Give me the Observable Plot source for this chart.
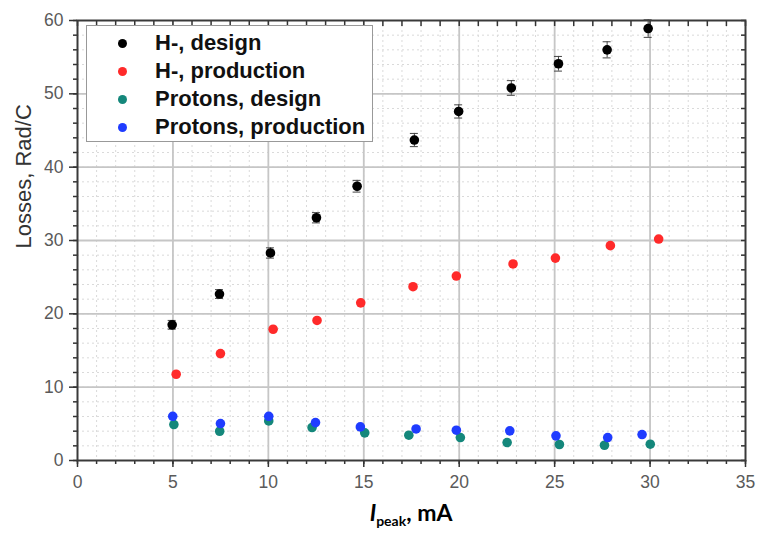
<!DOCTYPE html>
<html>
<head>
<meta charset="utf-8">
<script src="https://cdn.jsdelivr.net/npm/d3@7"></script>
<script src="https://cdn.jsdelivr.net/npm/@observablehq/plot@0.6"></script>
<style>
  html, body { margin: 0; padding: 0; background: #fff; }
  #wrap { position: relative; width: 773px; height: 543px; font-family: "Liberation Sans", Arial, sans-serif; }
  #legend { position: absolute; left: 86px; top: 25px; width: 287px; height: 117px; border: 1px solid #999; background: #fff; box-sizing: border-box; }
  .row { position: absolute; left: 0; height: 28px; display: flex; align-items: center; }
  .sw { width: 9px; height: 9px; border-radius: 50%; margin-left: 31px; margin-right: 28px; }
  .lab { font-weight: bold; font-size: 22px; color: #111; white-space: nowrap; }
  #xlabel { position: absolute; left: 77px; width: 668px; top: 498px; text-align: center; font-family: Lato, "Open Sans", sans-serif; font-weight: bold; font-size: 23px; color: #000; }
  #xlabel sub { font-size: 14px; vertical-align: -5px; }
</style>
</head>
<body>
<div id="wrap"></div>
<script>
// ---- data ----
const series = ["H-, design", "H-, production", "Protons, design", "Protons, production"];
const colors = ["#000000", "#ff2a2a", "#14877b", "#1f3cff"];

const xHD = [4.96, 7.44, 10.11, 12.52, 14.65, 17.65, 19.97, 22.73, 25.2, 27.75, 29.9];
const yHD = [18.5, 22.7, 28.3, 33.1, 37.4, 43.7, 47.6, 50.8, 54.1, 56.0, 58.9];
const eHD = [0.6, 0.6, 0.7, 0.7, 0.8, 0.9, 0.9, 1.0, 1.0, 1.1, 1.2];

const xHP = [5.17, 7.49, 10.25, 12.55, 14.84, 17.58, 19.85, 22.82, 25.04, 27.92, 30.45];
const yHP = [11.76, 14.58, 17.9, 19.1, 21.5, 23.7, 25.15, 26.8, 27.6, 29.3, 30.2];

const xPD = [5.05, 7.45, 10.02, 12.29, 15.05, 17.36, 20.06, 22.51, 25.25, 27.61, 30.01];
const yPD = [4.9, 3.99, 5.4, 4.5, 3.77, 3.45, 3.13, 2.45, 2.18, 2.08, 2.22];

const xPP = [4.99, 7.49, 10.02, 12.47, 14.82, 17.74, 19.85, 22.65, 25.07, 27.78, 29.58];
const yPP = [6.03, 5.04, 6.03, 5.17, 4.58, 4.3, 4.13, 4.04, 3.36, 3.13, 3.54];

const xMajor = [0, 5, 10, 15, 20, 25, 30, 35];
const yMajor = [0, 10, 20, 30, 40, 50, 60];
const xMinor = [0,1,2,3,4,5,6,7,8,9,10,11,12,13,14,15,16,17,18,19,20,21,22,23,24,25,26,27,28,29,30,31,32,33,34,35];
const yMinor = [0,2,4,6,8,10,12,14,16,18,20,22,24,26,28,30,32,34,36,38,40,42,44,46,48,50,52,54,56,58,60];
const xGridMajor = [5, 10, 15, 20, 25, 30];
const yGridMajor = [10, 20, 30, 40, 50];
const yLabel = "Losses, Rad/C";

// ---- tables ----
const zip = (xs, ys) => xs.map((x, i) => ({x, y: ys[i]}));
const hd = xHD.map((x, i) => ({x, y: yHD[i], lo: yHD[i] - eHD[i], hi: yHD[i] + eHD[i]}));
const hp = zip(xHP, yHP);
const pd = zip(xPD, yPD);
const pp = zip(xPP, yPP);

const tickColor = "#333";
const labelColor = "#5a5a5a";

const plot = Plot.plot({
  width: 773,
  height: 543,
  marginLeft: 77,
  marginRight: 28,
  marginTop: 20,
  marginBottom: 83,
  x: {domain: [0, 35]},
  y: {domain: [0, 60]},
  style: {fontFamily: "'Liberation Sans', Arial, sans-serif", fontSize: "17.5px", background: "#fff"},
  marks: [
    // minor dotted grid
    Plot.gridX(xMinor, {stroke: "#dadada", strokeOpacity: 1, strokeDasharray: "2,3", strokeWidth: 1}),
    Plot.gridY(yMinor, {stroke: "#dadada", strokeOpacity: 1, strokeDasharray: "2,3", strokeWidth: 1}),
    // major solid grid
    Plot.gridX(xGridMajor, {stroke: "#c6c6c6", strokeOpacity: 1, strokeWidth: 1.8}),
    Plot.gridY(yGridMajor, {stroke: "#c6c6c6", strokeOpacity: 1, strokeWidth: 1.8}),
    // bottom axis
    Plot.axisX(xMajor, {anchor: "bottom", tickSize: 7, tickPadding: 8, stroke: tickColor, fill: labelColor, strokeWidth: 1.5, label: null, tickFormat: d => String(d)}),
    Plot.axisX(xMinor, {anchor: "bottom", tickSize: 4, text: null, stroke: tickColor, strokeWidth: 1.5, label: null}),
    // top axis (inward ticks)
    Plot.axisX(xMinor, {anchor: "top", tickSize: 5, dy: 5, text: null, stroke: tickColor, strokeWidth: 1.5, label: null}),
    // left axis
    Plot.axisY(yMajor, {anchor: "left", tickSize: 8, tickPadding: 6, stroke: tickColor, fill: labelColor, strokeWidth: 1.5, label: null, tickFormat: d => String(d)}),
    Plot.axisY(yMinor, {anchor: "left", tickSize: 4, text: null, stroke: tickColor, strokeWidth: 1.5, label: null}),
    // right axis (inward ticks)
    Plot.axisY(yMinor, {anchor: "right", tickSize: 5, dx: -5, text: null, stroke: tickColor, strokeWidth: 1.5, label: null}),
    // y label
    Plot.text([yLabel], {text: d => d, frameAnchor: "left", rotate: -90, dx: -54, dy: 8, fontSize: 22, fill: "#333"}),
    // frame
    Plot.frame({stroke: "#3a3a3a", strokeWidth: 2}),
    // error bars for H- design
    Plot.ruleX(hd, {x: "x", y1: "lo", y2: "hi", stroke: "#444", strokeWidth: 1}),
    Plot.ruleY(hd, {y: "lo", x1: "x", x2: "x", insetLeft: -4, insetRight: -4, stroke: "#444", strokeWidth: 1}),
    Plot.ruleY(hd, {y: "hi", x1: "x", x2: "x", insetLeft: -4, insetRight: -4, stroke: "#444", strokeWidth: 1}),
    // points
    Plot.dot(pd, {x: "x", y: "y", r: 4.8, fill: colors[2], stroke: "none"}),
    Plot.dot(pp, {x: "x", y: "y", r: 4.8, fill: colors[3], stroke: "none"}),
    Plot.dot(hp, {x: "x", y: "y", r: 4.8, fill: colors[1], stroke: "none"}),
    Plot.dot(hd, {x: "x", y: "y", r: 4.8, fill: colors[0], stroke: "none"})
  ]
});

const wrap = document.getElementById("wrap");
wrap.appendChild(plot);

// legend
const legend = document.createElement("div");
legend.id = "legend";
series.forEach((s, i) => {
  const row = document.createElement("div");
  row.className = "row";
  row.style.top = (3 + i * 28) + "px";
  const sw = document.createElement("span");
  sw.className = "sw";
  sw.style.background = colors[i];
  const lab = document.createElement("span");
  lab.className = "lab";
  lab.textContent = s;
  row.appendChild(sw);
  row.appendChild(lab);
  legend.appendChild(row);
});
wrap.appendChild(legend);

// x label
const xl = document.createElement("div");
xl.id = "xlabel";
xl.innerHTML = "<i>I</i><sub>peak</sub>, mA";
wrap.appendChild(xl);
</script>
</body>
</html>
